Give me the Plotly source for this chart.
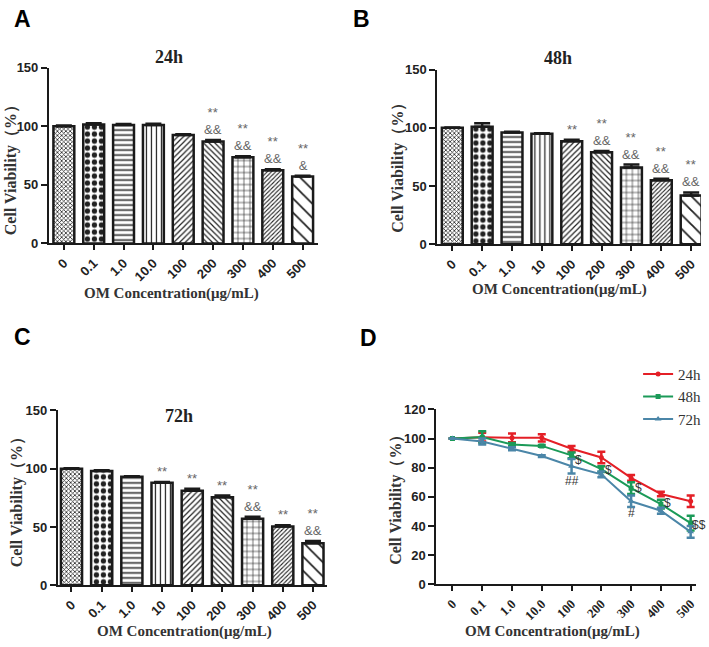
import plotly.graph_objects as go

W, H = 709, 647

categories_a = ["0", "0.1", "1.0", "10.0", "100", "200", "300", "400", "500"]
categories_b = ["0", "0.1", "1.0", "10", "100", "200", "300", "400", "500"]
categories_c = ["0", "0.1", "1.0", "10", "100", "200", "300", "400", "500"]
categories_d = ["0", "0.1", "1.0", "10.0", "100", "200", "300", "400", "500"]

v24 = [100, 101.5, 101, 101, 92.5, 87, 73.5, 62.5, 57]
e24 = [0.5, 1.0, 0.8, 1.0, 0.6, 1.2, 0.8, 0.7, 0.8]
v48 = [100, 101, 96, 95, 88.5, 79, 66, 55, 42]
e48 = [0.3, 3.0, 0.6, 0.3, 1.2, 1.2, 2.5, 1.2, 2.5]
v72 = [100, 98, 93, 88, 81, 75.5, 57, 50.5, 36]
e72 = [0.3, 0.6, 0.6, 0.6, 1.8, 1.5, 1.8, 1.0, 2.0]

# line chart (panel D)
d24 = [100, 101, 100.5, 100.5, 93, 87, 73, 62, 57]
de24 = [0, 3, 3, 2.5, 2, 4, 2, 1.5, 4]
d48 = [100, 101, 96, 95, 88.5, 79, 66, 55, 42]
de48 = [0, 4, 1, 0.6, 2, 2, 4, 3, 5]
d72 = [100, 98, 93, 88, 81, 75.5, 57, 50.5, 36]
de72 = [0, 2, 1, 0.6, 5, 2, 4, 2, 4]

sig_a = ["", "", "", "", "", "**<br>&&", "**<br>&&", "**<br>&&", "**<br>&"]
sig_b = ["", "", "", "", "**", "**<br>&&", "**<br>&&", "**<br>&&", "**<br>&&"]
sig_c = ["", "", "", "**", "**", "**", "**<br>&&", "**", "**<br>&&"]

d_sym_x = [4, 4, 5, 6, 6, 7, 8]
d_sym_y = [85, 71, 78.5, 66, 49, 56, 40.5]
d_sym_t = ["$", "##", "$", "$", "#", "$", "$$"]
d_sym_shift = [7, 0, 7, 7, 0, 7, 8]

pat_shape = ["x", ".", "-", "|", "/", "\\", "+", "/", "\\"]
pat_size = [3, 7, 5, 5, 4, 4, 6, 3, 10]
pat_sol = [0.45, 0.45, 0.3, 0.25, 0.3, 0.3, 0.2, 0.35, 0.18]

SANS = "Liberation Sans, Arial, sans-serif"
SERIF = "Liberation Serif, Times New Roman, serif"

def fx(p):
    return p / W

def fy(p):
    return 1 - p / H

fig = go.Figure()

panels = [
    ("x", "y", v24, e24, sig_a),
    ("x2", "y2", v48, e48, sig_b),
    ("x3", "y3", v72, e72, sig_c),
]
idx = list(range(9))
for xa, ya, vals, errs, sig in panels:
    fig.add_trace(go.Bar(
        x=idx, y=vals, xaxis=xa, yaxis=ya, width=0.7,
        marker=dict(color="white", line=dict(color="#1a1a1a", width=2.5),
                    pattern=dict(shape=pat_shape, size=pat_size, solidity=pat_sol,
                                 fgcolor="#222", bgcolor="white", fillmode="replace")),
        error_y=dict(type="data", array=errs, arrayminus=[0] * 9, symmetric=False,
                     color="#1a1a1a", thickness=2.5, width=8),
        showlegend=False, hoverinfo="skip"))
    for i in idx:
        if sig[i]:
            fig.add_annotation(x=i, y=vals[i] + errs[i], xref=xa, yref=ya, text=sig[i],
                               showarrow=False, xanchor="center", yanchor="bottom", yshift=1,
                               font=dict(family=SANS, size=13, color="#666"))

colors = ["#e41f26", "#1b9a58", "#4b86a8"]
symbols = ["circle", "square", "triangle-up"]
names = ["24h", "48h", "72h"]
for vals, errs, c, s, n in zip([d24, d48, d72], [de24, de48, de72], colors, symbols, names):
    fig.add_trace(go.Scatter(
        x=idx, y=vals, xaxis="x4", yaxis="y4", mode="lines+markers", name=n,
        line=dict(color=c, width=2), marker=dict(symbol=s, size=5 if s != "triangle-up" else 6, color=c),
        error_y=dict(type="data", array=errs, color=c, thickness=2.5, width=4)))

for x, y, t, sh in zip(d_sym_x, d_sym_y, d_sym_t, d_sym_shift):
    fig.add_annotation(x=x, y=y, xref="x4", yref="y4", text=t, showarrow=False,
                       xanchor="center", yanchor="middle",
                       xshift=sh, font=dict(family=SANS, size=12, color="#333"))

def xaxis_style(domain, anchor, rng, cats, serif=False):
    return dict(domain=domain, anchor=anchor, range=rng, tickmode="array",
                tickvals=idx, ticktext=cats, tickangle=-45,
                tickfont=dict(family=SERIF if serif else SANS, size=13, color="#222", weight="bold"),
                showline=True, linecolor="#1a1a1a", linewidth=2, ticks="outside",
                ticklen=5, tickwidth=2, tickcolor="#1a1a1a", showgrid=False, zeroline=False,
                fixedrange=True)

def yaxis_style(domain, anchor, rng, dtick):
    return dict(domain=domain, anchor=anchor, range=rng, dtick=dtick,
                tickfont=dict(family=SANS, size=13, color="#222", weight="bold"),
                showline=True, linecolor="#1a1a1a", linewidth=2, ticks="outside",
                ticklen=6, tickwidth=2, tickcolor="#1a1a1a", showgrid=False, zeroline=False,
                fixedrange=True)

fig.update_layout(
    width=W, height=H, margin=dict(l=0, r=0, t=0, b=0),
    paper_bgcolor="white", plot_bgcolor="white", bargap=0.3,
    xaxis=xaxis_style([fx(49), fx(318)], "y", [-0.5, 8.5], categories_a),
    yaxis=yaxis_style([fy(242), fy(62)], "x", [0, 150], 50),
    xaxis2=xaxis_style([fx(438), fx(702)], "y2", [-0.5, 8.33], categories_b),
    yaxis2=yaxis_style([fy(243), fy(64)], "x2", [0, 150], 50),
    xaxis3=xaxis_style([fx(58), fx(327)], "y3", [-0.45, 8.45], categories_c),
    yaxis3=yaxis_style([fy(592), fy(413)], "x3", [0, 150], 50),
    xaxis4=xaxis_style([fx(437), fx(697)], "y4", [-0.54, 8.18], categories_d, serif=True),
    yaxis4=yaxis_style([fy(591), fy(412)], "x4", [0, 120], 20),
    legend=dict(x=fx(639), y=fy(359), xanchor="left", yanchor="top",
                font=dict(family=SERIF, size=15, color="#333"), bgcolor="rgba(0,0,0,0)",
                itemwidth=30, tracegroupgap=0),
)

def ann(text, x, y, size, family, color="#222", angle=0):
    fig.add_annotation(x=fx(x), y=fy(y), xref="paper", yref="paper", text=text,
                       showarrow=False, xanchor="center", yanchor="middle", textangle=angle,
                       font=dict(family=family, size=size, color=color))

for t, x, y in [("A", 23, 12), ("B", 362, 12), ("C", 23, 338), ("D", 369, 339)]:
    ann("<b>%s</b>" % t, x, y, 23, SANS, "black")
for t, x, y in [("24h", 169, 51), ("48h", 559, 52), ("72h", 179, 419)]:
    ann("<b>%s</b>" % t, x, y, 18, SERIF)
for x, y in [(172, 293), (560, 289), (185, 639), (553, 639)]:
    ann("<b>OM Concentration(μg/mL)</b>", x, y, 15, SERIF, "#333")
for x, y in [(11, 163), (399, 160), (17, 503), (397, 500)]:
    ann("<b>Cell Viability（%）</b>", x, y, 16, SERIF, "#333", -90)

fig.write_html("out.html", config={"displayModeBar": False},
               post_script="document.body.style.margin='0';document.body.style.overflow='hidden';")
